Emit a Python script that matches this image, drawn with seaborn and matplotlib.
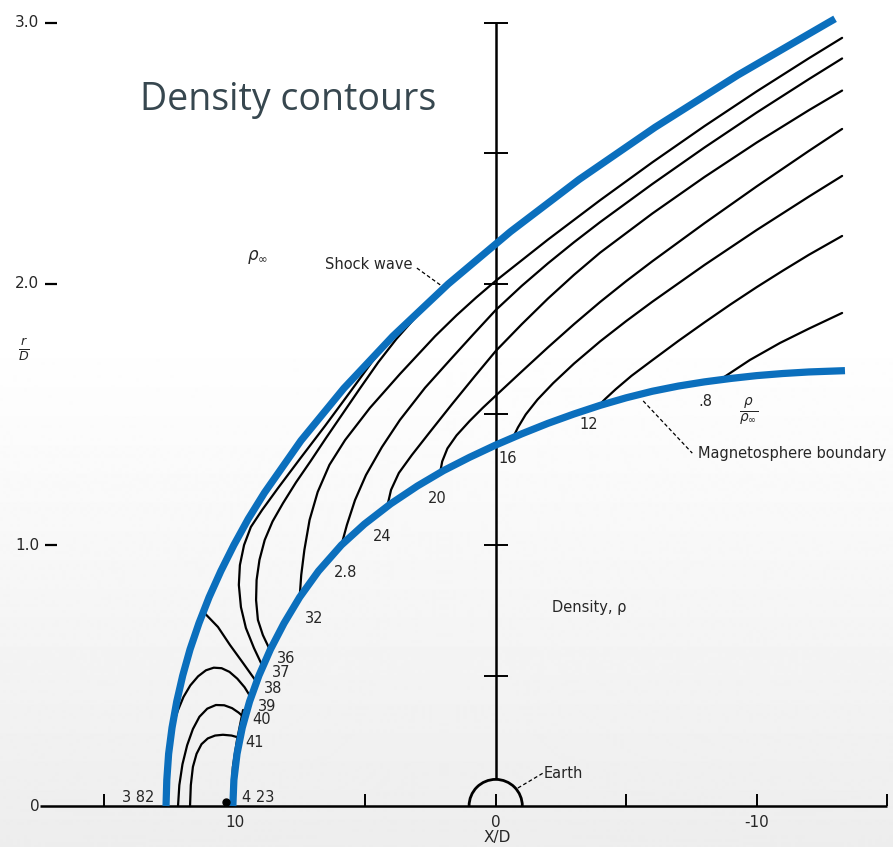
import numpy as np
import pandas as pd
import matplotlib.pyplot as plt
from matplotlib.patches import Arc
import seaborn as sns

# --- DATA: X/D and r/D
shock_x = [1.263, 1.260, 1.253, 1.240, 1.222, 1.199, 1.171, 1.137, 1.098, 1.053, 1.003, 0.948,
           0.886, 0.746, 0.582, 0.394, 0.182, -0.056, -0.319, -0.610, -0.927, -1.272, -1.300]
shock_y = [0.0, 0.1, 0.2, 0.3, 0.4, 0.5, 0.6, 0.7, 0.8, 0.9, 1.0, 1.1,
           1.2, 1.4, 1.6, 1.8, 2.0, 2.2, 2.4, 2.6, 2.8, 3.0, 3.016]

bound_x = [1.007, 1.003, 0.991, 0.971, 0.943, 0.907, 0.863, 0.811, 0.751, 0.679, 0.591, 0.503,
           0.402, 0.3, 0.2, 0.1, 0.0, -0.1, -0.2, -0.3, -0.4, -0.5, -0.6, -0.7, -0.8, -0.9,
           -1.0, -1.1, -1.2, -1.338]
bound_y = [0.0, 0.1, 0.2, 0.3, 0.4, 0.5, 0.6, 0.7, 0.8, 0.9, 1.0, 1.08,
           1.158, 1.226, 1.285, 1.336, 1.383, 1.426, 1.466, 1.502, 1.535, 1.564, 1.589, 1.609,
           1.625, 1.638, 1.649, 1.657, 1.663, 1.668]

# density contours rho/rho_inf
c08_x = [-0.859, -0.974, -1.089, -1.200, -1.327]
c08_y = [1.633, 1.709, 1.774, 1.829, 1.889]
c12_x = [-0.392, -0.420, -0.460, -0.520, -0.600, -0.700, -0.800, -0.900, -1.000, -1.100, -1.200, -1.327]
c12_y = [1.532, 1.560, 1.597, 1.648, 1.708, 1.782, 1.853, 1.922, 1.988, 2.051, 2.112, 2.184]
c16_x = [-0.066, -0.085, -0.115, -0.160, -0.220, -0.300, -0.400, -0.500, -0.600, -0.800, -1.000, -1.200, -1.327]
c16_y = [1.411, 1.450, 1.500, 1.557, 1.620, 1.695, 1.780, 1.858, 1.932, 2.073, 2.207, 2.335, 2.414]
c20_x = [0.213, 0.205, 0.185, 0.150, 0.100, 0.050, 0.000, -0.100, -0.200, -0.300, -0.400, -0.500,
         -0.600, -0.800, -1.000, -1.200, -1.327]
c20_y = [1.277, 1.320, 1.370, 1.420, 1.475, 1.525, 1.572, 1.665, 1.757, 1.846, 1.931, 2.011,
         2.087, 2.233, 2.374, 2.510, 2.594]
c24_x = [0.416, 0.401, 0.371, 0.321, 0.252, 0.167, 0.079, 0.000, -0.100, -0.200, -0.300, -0.400,
         -0.600, -0.800, -1.000, -1.200, -1.327]
c24_y = [1.146, 1.211, 1.276, 1.345, 1.433, 1.540, 1.648, 1.743, 1.846, 1.944, 2.035, 2.120,
         2.270, 2.410, 2.542, 2.666, 2.741]
c28_x = [0.591, 0.570, 0.539, 0.497, 0.436, 0.367, 0.271, 0.175, 0.085, 0.000, -0.100, -0.200,
         -0.300, -0.400, -0.600, -0.800, -1.000, -1.200, -1.327]
c28_y = [1.000, 1.077, 1.172, 1.268, 1.375, 1.479, 1.602, 1.709, 1.808, 1.900, 1.993, 2.079,
         2.160, 2.237, 2.383, 2.523, 2.657, 2.785, 2.864]
c32_x = [0.751, 0.745, 0.733, 0.713, 0.682, 0.637, 0.577, 0.482, 0.367, 0.232, 0.150, 0.075,
         0.000, -0.200, -0.400, -0.600, -0.800, -1.000, -1.200, -1.327]
c32_y = [0.801, 0.885, 0.981, 1.096, 1.203, 1.307, 1.402, 1.525, 1.655, 1.800, 1.880, 1.948,
         2.012, 2.170, 2.321, 2.466, 2.605, 2.738, 2.865, 2.943]
c36_x = [0.865, 0.892, 0.911, 0.918, 0.916, 0.905, 0.885, 0.855, 0.815, 0.765, 0.710, 0.650,
         0.585, 0.520, 0.450, 0.380, 0.300, 0.240, 0.206]
c36_y = [0.598, 0.655, 0.713, 0.789, 0.866, 0.943, 1.019, 1.090, 1.160, 1.240, 1.320, 1.410,
         1.505, 1.600, 1.700, 1.790, 1.880, 1.943, 1.977]
c37_x = [0.892, 0.926, 0.957, 0.976, 0.984, 0.980, 0.964, 0.938, 0.895, 0.834, 0.750, 0.654,
         0.558, 0.474, 0.386]
c37_y = [0.533, 0.605, 0.682, 0.762, 0.847, 0.923, 1.000, 1.069, 1.134, 1.218, 1.330, 1.456,
         1.586, 1.701, 1.808]
c38_x = [1.119, 1.064, 1.018, 0.968, 0.916]
c38_y = [0.743, 0.686, 0.617, 0.548, 0.475]
c39_x = [1.236, 1.218, 1.196, 1.170, 1.140, 1.110, 1.080, 1.050, 1.020, 0.990, 0.962, 0.939]
c39_y = [0.310, 0.365, 0.418, 0.462, 0.497, 0.520, 0.530, 0.528, 0.514, 0.488, 0.455, 0.418]
c40_x = [1.217, 1.212, 1.200, 1.182, 1.160, 1.135, 1.105, 1.072, 1.040, 1.010, 0.985, 0.961]
c40_y = [0.000, 0.080, 0.160, 0.233, 0.295, 0.342, 0.373, 0.387, 0.386, 0.375, 0.358, 0.337]
c41_x = [1.171, 1.168, 1.160, 1.146, 1.127, 1.103, 1.075, 1.045, 1.012, 0.980]
c41_y = [0.000, 0.080, 0.150, 0.200, 0.237, 0.259, 0.270, 0.273, 0.270, 0.261]
# original inked boundary near the nose, peeking out left of the blue
stub_x = [1.014, 1.007, 0.991, 0.968]
stub_y = [0.000, 0.149, 0.253, 0.368]

stag_x, stag_y = 1.033, 0.015   # stagnation point
earth_r = 0.102

lab_text = ['3 82', '4 23', '36', '37', '38', '39', '40', '41', '32', '2.8', '24', '20', '16', '12', '.8']
lab_x = [1.370, 0.911, 0.804, 0.822, 0.853, 0.876, 0.898, 0.925, 0.696, 0.574, 0.435, 0.225, -0.047, -0.358, -0.802]
lab_y = [0.034, 0.034, 0.567, 0.510, 0.452, 0.383, 0.330, 0.245, 0.720, 0.893, 1.031, 1.180, 1.333, 1.460, 1.548]

x_ticks = [1.5, 1.0, 0.5, 0.0, -0.5, -1.0, -1.5]
x_ticklabels = {1.0: '10', 0.0: '0', -1.0: '-10'}
y_ticks = [0.5, 1.0, 1.5, 2.0, 2.5, 3.0]
y_ticklabels = {3.0: '3.0', 2.0: '2.0', 1.0: '1.0', 0.0: '0'}

BLUE = '#0b6fbd'

# --- build long tables
contours = {'0.8': (c08_x, c08_y), '1.2': (c12_x, c12_y), '1.6': (c16_x, c16_y),
            '2.0': (c20_x, c20_y), '2.4': (c24_x, c24_y), '2.8': (c28_x, c28_y),
            '3.2': (c32_x, c32_y), '3.6': (c36_x, c36_y), '3.7': (c37_x, c37_y),
            '3.8': (c38_x, c38_y), '3.9': (c39_x, c39_y), '4.0': (c40_x, c40_y),
            '4.1': (c41_x, c41_y), 'ink': (stub_x, stub_y)}
df_c = pd.concat([pd.DataFrame({'X': xs, 'Y': ys, 'rho': k}) for k, (xs, ys) in contours.items()],
                 ignore_index=True)
df_b = pd.concat([pd.DataFrame({'X': shock_x, 'Y': shock_y, 'curve': 'shock'}),
                  pd.DataFrame({'X': bound_x, 'Y': bound_y, 'curve': 'magnetopause'})],
                 ignore_index=True)

#%% --- PLOT
sns.set_style("white")
plt.rcParams['font.family'] = ['DejaVu Sans']

fig = plt.figure(figsize=(8.93, 8.47), dpi=100)

# slide background: white fading to light grey at the bottom
bg = fig.add_axes([0, 0, 1, 1])
bg.axis('off')
shade = np.concatenate([np.ones(330), np.linspace(1.0, 0.93, 517)])[:, None]
bg.imshow(shade, cmap='gray', vmin=0, vmax=1, aspect='auto', extent=[0, 1, 0, 1])

ax = fig.add_axes([0, 0, 1, 1])
ax.set_facecolor('none')
ax.set_xlim(1.899, -1.522)
ax.set_ylim(-0.157, 3.088)
ax.axis('off')

sns.lineplot(data=df_c, x='X', y='Y', units='rho', estimator=None, sort=False,
             color='black', lw=1.6, ax=ax, legend=False, zorder=2)
sns.lineplot(data=df_b, x='X', y='Y', units='curve', estimator=None, sort=False,
             color=BLUE, lw=5.2, ax=ax, legend=False, zorder=4, solid_capstyle='butt')

# axes drawn as in the original figure
ax.hlines(0, 1.746, -1.499, color='black', lw=1.8, zorder=3)
ax.vlines(x_ticks, 0, 0.045, color='black', lw=1.4, zorder=3)
ax.vlines(0, earth_r, 3.0, color='black', lw=1.8, zorder=3)
ax.hlines(y_ticks, -0.046, 0.046, color='black', lw=1.4, zorder=3)
for yv, t in y_ticklabels.items():
    ax.text(1.748, yv, t, ha='right', va='center', fontsize=11)
    if yv > 0:
        ax.hlines(yv, 1.726, 1.682, color='black', lw=1.6)
for xv, t in x_ticklabels.items():
    ax.text(xv, -0.062, t, ha='center', va='center', fontsize=11)
ax.text(-0.005, -0.119, 'X/D', ha='center', va='center', fontsize=11)
ax.text(1.807, 1.747, r'$\frac{r}{D}$', ha='center', va='center', fontsize=13)

# Earth and stagnation point
ax.add_patch(Arc((0, 0), 2 * earth_r, 2 * earth_r, theta1=0, theta2=180, lw=2.0,
                 color='black', zorder=3))
ax.plot(stag_x, stag_y, 'o', ms=5, color='black', zorder=5)

# contour labels
for t, xv, yv in zip(lab_text, lab_x, lab_y):
    ax.text(xv, yv, t, ha='center', va='center', fontsize=10.5, zorder=6)

# annotations with dashed leaders
dash = dict(color='black', lw=0.9, ls=(0, (3, 2)))
ax.text(0.654, 2.073, 'Shock wave', ha='left', va='center', fontsize=10.5)
ax.plot([0.302, 0.202], [2.061, 1.989], **dash)
ax.text(-0.776, 1.349, 'Magnetosphere boundary', ha='left', va='center', fontsize=10.5)
ax.plot([-0.565, -0.753], [1.552, 1.352], **dash)
ax.text(-0.185, 0.123, 'Earth', ha='left', va='center', fontsize=10.5)
ax.plot([-0.085, -0.181], [0.069, 0.126], **dash)
ax.text(-0.216, 0.762, 'Density, ρ', ha='left', va='center', fontsize=10.5)
ax.text(-0.967, 1.510, r'$\frac{\rho}{\rho_\infty}$', ha='center', va='center', fontsize=14)
ax.text(0.914, 2.103, r'$\rho_\infty$', ha='center', va='center', fontsize=12)

fig.text(0.157, 0.870, 'Density contours', fontsize=27, family=['Open Sans', 'DejaVu Sans'],
         color='#37474f', va='baseline', ha='left')

plt.savefig('out.png', dpi=100)
